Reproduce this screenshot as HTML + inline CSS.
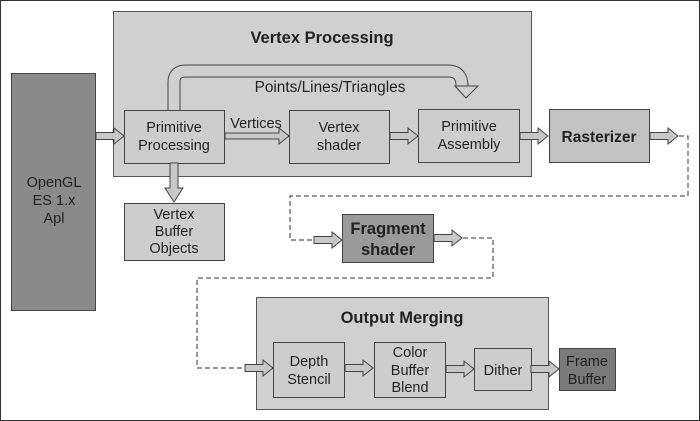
<!DOCTYPE html>
<html><head><meta charset="utf-8"><style>
html,body{margin:0;padding:0;background:#fff}
svg{display:block}
text{font-family:"Liberation Sans",sans-serif;fill:#222}
.b{font-weight:bold}
</style></head><body>
<svg width="700" height="421" viewBox="0 0 700 421" xmlns="http://www.w3.org/2000/svg">
<defs>
<g id="ar"><polygon points="0,-3.5 18,-3.5 18,-8 28,0 18,8 18,3.5 0,3.5" fill="#c8c8c8" stroke="#444" stroke-width="1"/></g>
</defs>
<rect x="0.5" y="0.5" width="699" height="420" fill="#fff" stroke="#333"/>
<rect x="113.5" y="11.5" width="418" height="165" fill="#d0d0d0" stroke="#555"/>
<text x="322" y="43" font-size="16.5" class="b" text-anchor="middle">Vertex Processing</text>
<path d="M174,111 V82 Q174,71 186,71 H448 Q462,71 462,86 V88" fill="none" stroke="#444" stroke-width="13"/>
<path d="M174,112 V82 Q174,71 186,71 H448 Q462,71 462,86 V90" fill="none" stroke="#d0d0d0" stroke-width="11"/>
<polygon points="455,86 478,86 466,98" fill="#d0d0d0" stroke="#444"/>
<text x="330" y="92" font-size="15.4" text-anchor="middle">Points/Lines/Triangles</text>
<rect x="11.5" y="73.5" width="84" height="237" fill="#8a8a8a" stroke="#444"/>
<text x="54" y="187" font-size="14.5" text-anchor="middle">OpenGL</text>
<text x="54" y="205" font-size="14.5" text-anchor="middle">ES 1.x</text>
<text x="54" y="223" font-size="14.5" text-anchor="middle">Apl</text>
<rect x="124.5" y="110.5" width="100" height="53" fill="#cdcdcd" stroke="#444"/>
<text x="174" y="132" font-size="14.5" text-anchor="middle">Primitive</text>
<text x="174" y="150" font-size="14.5" text-anchor="middle">Processing</text>
<text x="256" y="128" font-size="14.5" text-anchor="middle">Vertices</text>
<rect x="289.5" y="110.5" width="100" height="53" fill="#cdcdcd" stroke="#444"/>
<text x="339" y="132" font-size="14.5" text-anchor="middle">Vertex</text>
<text x="339" y="150" font-size="14.5" text-anchor="middle">shader</text>
<rect x="418.5" y="109.5" width="101" height="53" fill="#cdcdcd" stroke="#444"/>
<text x="469" y="131" font-size="14.5" text-anchor="middle">Primitive</text>
<text x="469" y="149" font-size="14.5" text-anchor="middle">Assembly</text>
<rect x="549.5" y="109.5" width="100" height="53" fill="#c2c2c2" stroke="#444"/>
<text x="599" y="142" font-size="15.5" class="b" text-anchor="middle">Rasterizer</text>
<rect x="124.5" y="203.5" width="100" height="57" fill="#cdcdcd" stroke="#444"/>
<text x="174" y="219" font-size="14.5" text-anchor="middle">Vertex</text>
<text x="174" y="236" font-size="14.5" text-anchor="middle">Buffer</text>
<text x="174" y="253" font-size="14.5" text-anchor="middle">Objects</text>
<rect x="342.5" y="214.5" width="91" height="48" fill="#9a9a9a" stroke="#444"/>
<text x="388" y="234" font-size="16.5" class="b" text-anchor="middle">Fragment</text>
<text x="388" y="255" font-size="16.5" class="b" text-anchor="middle">shader</text>
<rect x="256.5" y="297.5" width="292" height="112" fill="#d0d0d0" stroke="#555"/>
<text x="402" y="323" font-size="16.5" class="b" text-anchor="middle">Output Merging</text>
<rect x="273.5" y="342.5" width="71" height="55" fill="#cdcdcd" stroke="#444"/>
<text x="309" y="366" font-size="14.5" text-anchor="middle">Depth</text>
<text x="309" y="384" font-size="14.5" text-anchor="middle">Stencil</text>
<rect x="374.5" y="342.5" width="71" height="55" fill="#cdcdcd" stroke="#444"/>
<text x="410" y="357" font-size="14.5" text-anchor="middle">Color</text>
<text x="410" y="375" font-size="14.5" text-anchor="middle">Buffer</text>
<text x="410" y="392" font-size="14.5" text-anchor="middle">Blend</text>
<rect x="474.5" y="348.5" width="57" height="42" fill="#cdcdcd" stroke="#444"/>
<text x="503" y="375" font-size="14.5" text-anchor="middle">Dither</text>
<rect x="559.5" y="348.5" width="56" height="42" fill="#7a7a7a" stroke="#444"/>
<text x="587" y="366" font-size="14.5" text-anchor="middle">Frame</text>
<text x="587" y="384" font-size="14.5" text-anchor="middle">Buffer</text>
<path d="M679,136 H688 V196 H290 V240 H314" fill="none" stroke="#333" stroke-dasharray="5,3"/>
<path d="M463,238 H493 V278 H197 V368 H245" fill="none" stroke="#333" stroke-dasharray="5,3"/>
<polygon points="170,163 178,163 178,188 183,188 174,202 165,188 170,188" fill="#c8c8c8" stroke="#444"/>
<use href="#ar" x="96" y="136"/>
<polygon points="225,133 279,133 279,128 289,136 279,144 279,139 225,139" fill="#c8c8c8" stroke="#444"/>
<use href="#ar" x="390" y="136"/>
<use href="#ar" x="520" y="136"/>
<use href="#ar" x="650" y="136"/>
<use href="#ar" x="314" y="240"/>
<use href="#ar" x="434" y="238"/>
<use href="#ar" x="245" y="368"/>
<use href="#ar" x="345" y="368"/>
<use href="#ar" x="446" y="369"/>
<use href="#ar" x="531" y="369"/>
</svg>
</body></html>
